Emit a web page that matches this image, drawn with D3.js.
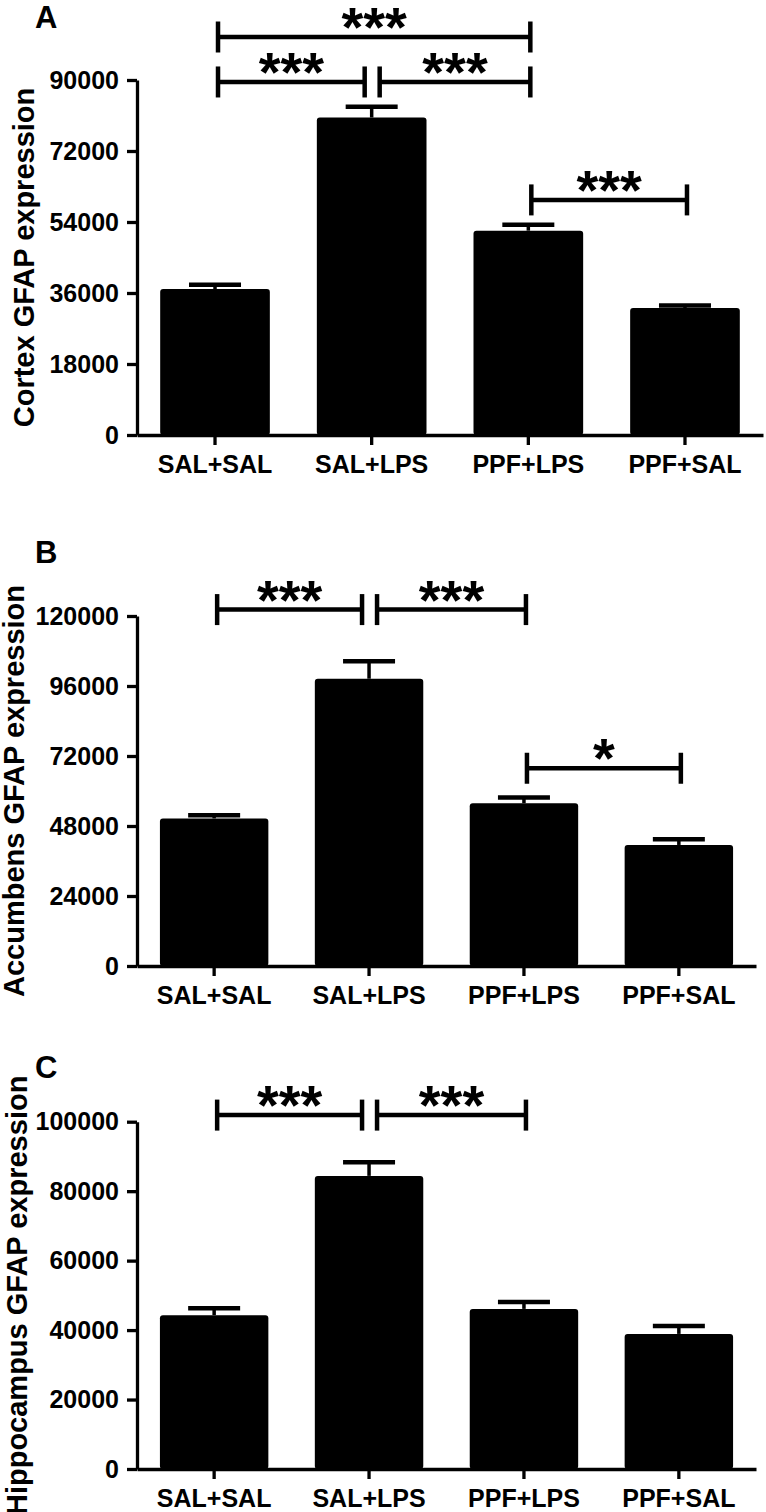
<!DOCTYPE html>
<html>
<head>
<meta charset="utf-8">
<script src="https://cdn.jsdelivr.net/npm/d3@7"></script>
<style>
  html, body { margin: 0; padding: 0; background: #fff; }
  svg { display: block; }
  text { font-family: "Liberation Sans", Arial, sans-serif; font-weight: bold; fill: #000; }
</style>
</head>
<body>
<svg id="chart" width="766" height="1512"></svg>
<script>
// ---------- data ----------
const categories = ["SAL+SAL", "SAL+LPS", "PPF+LPS", "PPF+SAL"];

const cortexMean = [37000, 80500, 51800, 32200];
const cortexSem  = [1100, 2700, 1500, 600];
const cortexTicks = [0, 18000, 36000, 54000, 72000, 90000];

const accumbensMean = [50600, 98500, 55800, 41500];
const accumbensSem  = [1100, 6000, 2000, 2000];
const accumbensTicks = [0, 24000, 48000, 72000, 96000, 120000];

const hippocampusMean = [44300, 84400, 46100, 38900];
const hippocampusSem  = [2000, 3900, 2000, 2300];
const hippocampusTicks = [0, 20000, 40000, 60000, 80000, 100000];

// significance brackets: [from index, to index, label, level (data units)]
const cortexSig = [[0, 2, "***", 100900], [0, 1, "***", 89500], [1, 2, "***", 89500], [2, 3, "***", 59600]];
const accumbensSig = [[0, 1, "***", 122200], [1, 2, "***", 122200], [2, 3, "*", 67800]];
const hippocampusSig = [[0, 1, "***", 101900], [1, 2, "***", 101900]];

// ---------- layout ----------
const svg = d3.select("#chart");
svg.append("rect").attr("width", 766).attr("height", 1512).attr("fill", "#fff");

const panels = [
  { letter: "A", title: "Cortex GFAP expression", mean: cortexMean, sem: cortexSem, ticks: cortexTicks, sig: cortexSig,
    y0: 435, y1: 80, xr: [137, 763], titleX: 34, letterY: 28 },
  { letter: "B", title: "Accumbens GFAP expression", mean: accumbensMean, sem: accumbensSem, ticks: accumbensTicks, sig: accumbensSig,
    y0: 966, y1: 616, xr: [137, 756], titleX: 24, letterY: 563 },
  { letter: "C", title: "Hippocampus GFAP expression", mean: hippocampusMean, sem: hippocampusSem, ticks: hippocampusTicks, sig: hippocampusSig,
    y0: 1469, y1: 1121.7, xr: [137, 756], titleX: 27, letterY: 1078 }
];

panels.forEach(p => {
  const g = svg.append("g");
  const x = d3.scaleBand().domain(categories).range(p.xr).paddingInner(0.3).paddingOuter(0.148);
  const y = d3.scaleLinear().domain([0, p.ticks[p.ticks.length - 1]]).range([p.y0, p.y1]);
  const cx = i => x(categories[i]) + x.bandwidth() / 2;

  // bars
  g.selectAll("rect.bar").data(p.mean).join("rect")
    .attr("class", "bar")
    .attr("x", (d, i) => x(categories[i]))
    .attr("y", d => y(d))
    .attr("width", x.bandwidth())
    .attr("height", d => y(0) - y(d))
    .attr("rx", 3)
    .attr("fill", "#000");

  // error bars (upper only)
  const eb = g.selectAll("g.err").data(p.mean).join("g").attr("class", "err");
  eb.append("line")
    .attr("x1", (d, i) => cx(i)).attr("x2", (d, i) => cx(i))
    .attr("y1", d => y(d)).attr("y2", (d, i) => y(d + p.sem[i]))
    .attr("stroke", "#000").attr("stroke-width", 3.5);
  eb.append("line")
    .attr("x1", (d, i) => cx(i) - 26).attr("x2", (d, i) => cx(i) + 26)
    .attr("y1", (d, i) => y(d + p.sem[i])).attr("y2", (d, i) => y(d + p.sem[i]))
    .attr("stroke", "#000").attr("stroke-width", 4.5);

  // axes
  const yAxis = g.append("g").attr("transform", `translate(${p.xr[0]},0)`)
    .call(d3.axisLeft(y).tickValues(p.ticks).tickSize(10).tickSizeOuter(0).tickPadding(8).tickFormat(d3.format("d")));
  const xAxis = g.append("g").attr("transform", `translate(0,${p.y0})`)
    .call(d3.axisBottom(x).tickSize(10).tickSizeOuter(0).tickPadding(10));
  [yAxis, xAxis].forEach(a => {
    a.select(".domain").attr("stroke", "#000").attr("stroke-width", 3.3);
    a.selectAll(".tick line").attr("stroke", "#000").attr("stroke-width", 3.3);
    a.selectAll(".tick text").attr("font-size", 25).attr("font-family", '"Liberation Sans", Arial, sans-serif').attr("font-weight", "bold").attr("fill", "#000");
  });

  // y title
  g.append("text")
    .attr("transform", `translate(${p.titleX},${(p.y0 + p.y1) / 2}) rotate(-90)`)
    .attr("text-anchor", "middle")
    .attr("font-size", 29)
    .text(p.title);

  // panel letter
  g.append("text").attr("x", 35).attr("y", p.letterY).attr("font-size", 31).text(p.letter);

  // significance brackets
  p.sig.forEach(s => {
    const [a, b, label, lvl] = s;
    const ly = y(lvl);
    const joinLeft = p.sig.some(o => o !== s && o[3] === lvl && o[1] === a);
    const joinRight = p.sig.some(o => o !== s && o[3] === lvl && o[0] === b);
    const xa = cx(a) + (joinLeft ? 8 : 3);
    const xb = cx(b) + (joinRight ? -7 : 2);
    const bg = g.append("g");
    bg.append("line").attr("x1", xa).attr("x2", xb).attr("y1", ly).attr("y2", ly)
      .attr("stroke", "#000").attr("stroke-width", 4.5);
    [xa, xb].forEach(xx => bg.append("line").attr("x1", xx).attr("x2", xx)
      .attr("y1", ly - 15.5).attr("y2", ly + 15.5).attr("stroke", "#000").attr("stroke-width", 4.5));
    bg.append("text").attr("x", (xa + xb) / 2).attr("y", ly + 9)
      .attr("text-anchor", "middle").attr("font-size", 56).text(label);
  });
});
</script>
</body>
</html>
